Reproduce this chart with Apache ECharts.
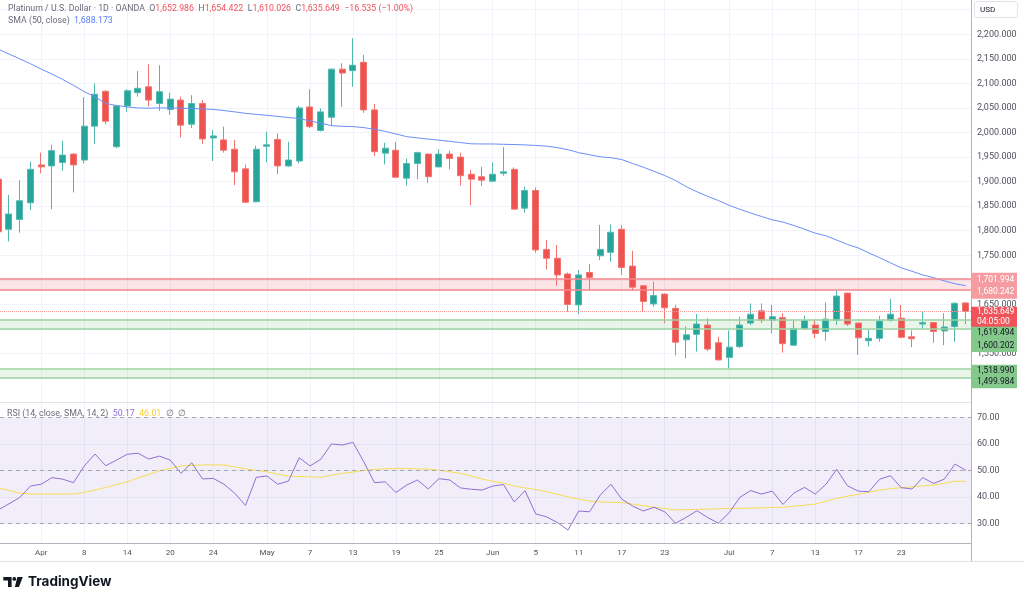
<!DOCTYPE html>
<html>
<head>
<meta charset="utf-8">
<title>Platinum / U.S. Dollar · 1D · OANDA</title>
<script src="https://cdn.jsdelivr.net/npm/echarts@6.0.0/dist/echarts.min.js"></script>
<style>
  html, body { margin: 0; padding: 0; background: #fff; }
  #main { width: 1024px; height: 598px; }
</style>
</head>
<body>
<div id="main"></div>
<script>
// trading days on screen (Mar 26 is only partly visible at the left edge)
let dates = [
  '2026-03-26', '2026-03-27', '2026-03-30', '2026-03-31',
  '2026-04-01', '2026-04-02', '2026-04-06', '2026-04-07', '2026-04-08', '2026-04-09', '2026-04-10',
  '2026-04-13', '2026-04-14', '2026-04-15', '2026-04-16', '2026-04-17',
  '2026-04-20', '2026-04-21', '2026-04-22', '2026-04-23', '2026-04-24',
  '2026-04-27', '2026-04-28', '2026-04-29', '2026-04-30',
  '2026-05-01', '2026-05-04', '2026-05-05', '2026-05-06', '2026-05-07', '2026-05-08',
  '2026-05-11', '2026-05-12', '2026-05-13', '2026-05-14', '2026-05-15',
  '2026-05-18', '2026-05-19', '2026-05-20', '2026-05-21', '2026-05-22',
  '2026-05-25', '2026-05-26', '2026-05-27', '2026-05-28', '2026-05-29',
  '2026-06-01', '2026-06-02', '2026-06-03', '2026-06-04', '2026-06-05',
  '2026-06-08', '2026-06-09', '2026-06-10', '2026-06-11', '2026-06-12',
  '2026-06-15', '2026-06-16', '2026-06-17', '2026-06-18', '2026-06-19',
  '2026-06-22', '2026-06-23', '2026-06-24', '2026-06-25', '2026-06-26',
  '2026-06-29', '2026-06-30', '2026-07-01', '2026-07-02', '2026-07-03',
  '2026-07-06', '2026-07-07', '2026-07-08', '2026-07-09', '2026-07-10',
  '2026-07-13', '2026-07-14', '2026-07-15', '2026-07-16', '2026-07-17',
  '2026-07-20', '2026-07-21', '2026-07-22', '2026-07-23', '2026-07-24',
  '2026-07-27', '2026-07-28', '2026-07-29', '2026-07-30', '2026-07-31'
];

let opens = [
  1905, 1803, 1823, 1857,
  1934, 1932, 1939, 1956, 1944, 2013, 2084,
  1971, 2054, 2081, 2093, 2059,
  2047, 2066, 2017, 2059, 1989,
  1985, 1966, 1926, 1859,
  1972, 1986, 1932, 1942, 2052, 2004,
  2031, 2129, 2126, 2143, 2046,
  1958, 1964, 1907, 1937, 1956,
  1930, 1956, 1950, 1915, 1910,
  1901, 1917, 1925, 1846, 1882,
  1762, 1744, 1712, 1649, 1715,
  1749, 1756, 1803, 1728, 1688,
  1651, 1671, 1642, 1578, 1589,
  1608, 1572, 1542, 1564, 1612,
  1637, 1618, 1623, 1567, 1601,
  1608, 1595, 1618, 1673, 1612,
  1576, 1581, 1618, 1622, 1584,
  1610, 1613, 1596, 1605, 1652.986
];
let highs = [
  1915, 1873, 1903, 1941,
  1959, 1975, 1983, 1958, 2072, 2100, 2086,
  2056, 2088, 2125, 2139, 2137,
  2081, 2073, 2076, 2066, 2005,
  2012, 1985, 1935, 1973,
  2002, 1998, 1981, 2054, 2088, 2049,
  2130, 2141, 2192, 2158, 2058,
  1979, 1981, 1947, 1961, 1958,
  1966, 1963, 1959, 1924, 1930,
  1939, 1970, 1929, 1890, 1888,
  1781, 1771, 1715, 1720, 1732,
  1812, 1813, 1812, 1759, 1689,
  1696, 1672, 1649, 1605, 1630,
  1622, 1584, 1597, 1625, 1652,
  1652, 1649, 1632, 1620, 1627,
  1618, 1654, 1679, 1674, 1613,
  1599, 1627, 1661, 1649, 1597,
  1635, 1614, 1632, 1654, 1654.422
];
let lows = [
  1790, 1778, 1796, 1842,
  1917, 1844, 1922, 1878, 1937, 1977, 2017,
  1968, 2042, 2073, 2053, 2044,
  2036, 1990, 2009, 1977, 1942,
  1959, 1893, 1857, 1858,
  1939, 1915, 1930, 1937, 2009, 2002,
  2013, 2052, 2093, 2040, 1952,
  1935, 1907, 1892, 1905, 1897,
  1929, 1925, 1892, 1852, 1891,
  1899, 1912, 1844, 1837, 1755,
  1721, 1688, 1635, 1630, 1679,
  1740, 1737, 1710, 1678, 1635,
  1645, 1612, 1546, 1540, 1554,
  1555, 1536, 1519, 1561, 1608,
  1612, 1591, 1552, 1565, 1599,
  1581, 1576, 1608, 1606, 1547,
  1564, 1574, 1615, 1581, 1563,
  1599, 1572, 1567, 1574, 1610.026
];
let closes = [
  1798, 1834, 1861, 1925,
  1930, 1963, 1954, 1934, 2013, 2078, 2023,
  2054, 2085, 2090, 2066, 2083,
  2068, 2015, 2059, 1987, 1993,
  1964, 1920, 1858, 1966,
  1975, 1932, 1944, 2050, 2012, 2042,
  2129, 2121, 2137, 2046, 1961,
  1968, 1909, 1937, 1959, 1910,
  1956, 1947, 1912, 1905, 1903,
  1915, 1920, 1844, 1882, 1761,
  1744, 1710, 1650, 1710, 1705,
  1762, 1797, 1725, 1685, 1656,
  1668, 1643, 1573, 1588, 1610,
  1559, 1537, 1563, 1608, 1630,
  1618, 1625, 1570, 1601, 1617,
  1591, 1620, 1667, 1610, 1582,
  1581, 1616, 1630, 1583, 1580,
  1613, 1595, 1604, 1652.184, 1635.649
];

// SMA (50, close)
let sma50 = [
  2169.7, 2159.7, 2150, 2140,
  2129, 2119, 2108, 2096, 2083, 2073, 2059,
  2055, 2052, 2050, 2049.5, 2050,
  2050, 2049.5, 2049, 2048, 2047,
  2044.7, 2042, 2039, 2037,
  2035, 2032.7, 2030.6, 2028.5, 2023.5, 2019,
  2014, 2012.7, 2012, 2010, 2006.6,
  2002.3, 1997, 1991.5, 1989, 1986.6,
  1984.4, 1982, 1979.5, 1977, 1976.7,
  1976.7, 1976, 1975.5, 1974.8, 1973.6,
  1972.2, 1969.3, 1965, 1959, 1954.7,
  1950.6, 1948.6, 1945, 1937, 1929.4,
  1921, 1912.5, 1902.3, 1889.7, 1879.3,
  1870, 1861.4, 1851.6, 1843.5, 1836,
  1829, 1822.3, 1817.6, 1810.7, 1803.2,
  1795, 1789.7, 1781, 1772, 1765,
  1754.7, 1745, 1734.6, 1724.6, 1717.5,
  1710, 1704.5, 1698, 1692, 1688.173
];

// RSI (14) and its SMA (14)
let rsi = [
  35.2, 37.5, 39.9, 44.2,
  44.9, 47.4, 46.8, 45.5, 51.8, 56.3, 51.9,
  54.0, 56.2, 56.6, 54.4, 55.5,
  54.0, 49.0, 53.0, 46.9, 47.1,
  44.9, 41.5, 36.9, 47.5,
  48.0, 44.9, 46.1, 54.9, 51.8, 54.3,
  60.1, 59.7, 60.7, 53.4, 45.5,
  45.8, 41.8, 44.6, 46.5, 43.1,
  47.0, 46.5, 43.5, 43.0, 42.7,
  44.2, 44.8, 38.2, 42.5, 33.7,
  32.6, 30.5, 27.6, 34.8, 34.5,
  40.8, 44.9, 39.3, 36.7, 34.8,
  36.2, 34.5, 30.2, 32.4, 34.9,
  32.3, 30.2, 34.2, 40.0, 42.5,
  41.2, 42.3, 37.3, 41.5, 43.7,
  41.2, 44.9, 50.5, 44.3, 42.3,
  42.1, 46.8, 48.1, 43.6, 43.1,
  47.4, 45.2, 46.8, 52.5, 50.17
];
let rsiMa = [
  43.4, 42.6, 41.5, 41.2,
  41.2, 41.2, 41.2, 41.2, 41.8, 42.7, 43.7,
  44.8, 45.8, 47.3, 48.5, 50.0,
  50.9, 51.8, 52.0, 52.2, 52.2,
  52.2, 51.4, 50.7, 50.1,
  49.6, 48.7, 48.0, 47.8, 47.7, 47.5,
  48.3, 49.0, 49.5, 50.1, 50.5,
  50.7, 50.9, 50.8, 50.7, 50.6,
  50.2, 49.6, 49.0, 48.0, 46.9,
  46.0, 45.3, 44.2, 43.5, 42.9,
  42.1, 41.1, 40.1, 39.3, 38.6,
  38.2, 38.1, 38.0, 37.4, 36.8,
  36.2, 35.7, 35.2, 35.3, 35.4,
  35.5, 35.6, 35.8, 35.8, 35.9,
  36.0, 36.1, 36.2, 36.6, 37.0,
  37.4, 38.5, 39.6, 40.4, 41.1,
  41.9, 42.7, 43.2, 43.6, 43.9,
  44.3, 44.6, 45.3, 46.0, 46.01
];

// time axis labels
let tickDates = [
  '2026-04-01', '2026-04-08', '2026-04-14', '2026-04-20', '2026-04-24',
  '2026-05-01', '2026-05-07', '2026-05-13', '2026-05-19', '2026-05-25',
  '2026-06-01', '2026-06-05', '2026-06-11', '2026-06-17', '2026-06-23',
  '2026-07-01', '2026-07-07', '2026-07-13', '2026-07-17', '2026-07-23'
];
let tickTexts = ['Apr', '8', '14', '20', '24', 'May', '7', '13', '19', '25',
  'Jun', '5', '11', '17', '23', 'Jul', '7', '13', '17', '23'];

// price scale
let priceTicks = [1500, 1550, 1600, 1650, 1700, 1750, 1800, 1850, 1900, 1950,
  2000, 2050, 2100, 2150, 2200, 2250];
let priceLabels = [1550, 1650, 1750, 1800, 1850, 1900, 1950, 2000, 2050, 2100, 2150, 2200];
let rsiTicks = [30, 40, 50, 60, 70];
let rsiBands = [70, 50, 30];

// drawn horizontal zones
let resistanceZone = [1701.994, 1680.242];
let supportZones = [[1619.494, 1600.202], [1518.990, 1499.984]];

// 获取dom节点并初始化
let chartDom = document.getElementById('main');
let myChart = echarts.init(chartDom);
let option;

const UP = '#26a69a';
const DOWN = '#ef5350';
const GRID_LINE = '#f0f3fa';
const AXIS_TEXT = '#50535e';
const FONT = 'Roboto, sans-serif';
const LEG = 8.8;

const fmt3 = v => v.toLocaleString('en-US', { minimumFractionDigits: 3, maximumFractionDigits: 3 });

// bar index is the x value; the view starts just right of bar 0 so it is cut off
let tickIdx = tickDates.map(d => dates.indexOf(d));
let candleData = dates.map((d, i) => [i, opens[i], closes[i], lows[i], highs[i]]);
let smaData = sma50.map((v, i) => [i, v]);
let rsiData = rsi.map((v, i) => [i, v]);
let rsiMaData = rsiMa.map((v, i) => [i, v]);
let last = closes.length - 1;

const xView = { min: 0.163, max: 90.49 };

option = {
  animation: false,
  backgroundColor: '#ffffff',
  textStyle: { fontFamily: FONT },
  grid: [
    { left: 0, top: 0, width: 971, height: 402 },
    { left: 0, top: 403, width: 971, height: 140 }
  ],
  xAxis: [
    {
      type: 'value', gridIndex: 0, min: xView.min, max: xView.max,
      axisLine: { show: false },
      axisTick: { show: false, customValues: tickIdx },
      axisLabel: { show: false },
      splitLine: { show: true, lineStyle: { color: GRID_LINE, width: 1 } }
    },
    {
      type: 'value', gridIndex: 1, min: xView.min, max: xView.max,
      axisLine: { show: true, onZero: false, lineStyle: { color: '#b2b5be' } },
      axisTick: { show: false, customValues: tickIdx },
      axisLabel: {
        customValues: tickIdx,
        formatter: v => tickTexts[tickIdx.indexOf(v)],
        color: AXIS_TEXT, fontSize: 8, margin: 6
      },
      splitLine: { show: true, lineStyle: { color: GRID_LINE, width: 1 } }
    }
  ],
  yAxis: [
    {
      type: 'value', gridIndex: 0, position: 'right', min: 1451.3, max: 2269.8,
      axisLine: { show: true, lineStyle: { color: '#b2b5be' } },
      axisTick: { show: false, customValues: priceTicks },
      axisLabel: { customValues: priceLabels, formatter: fmt3, color: AXIS_TEXT, fontSize: 9, margin: 6 },
      splitLine: { show: true, lineStyle: { color: GRID_LINE, width: 1 } }
    },
    {
      type: 'value', gridIndex: 1, position: 'right', min: 22.72, max: 75.55,
      axisLine: { show: true, lineStyle: { color: '#b2b5be' } },
      axisTick: { show: false, customValues: rsiTicks },
      axisLabel: { customValues: rsiTicks, formatter: v => v.toFixed(2), color: AXIS_TEXT, fontSize: 9, margin: 6 },
      splitLine: { show: true, lineStyle: { color: GRID_LINE, width: 1 } }
    }
  ],
  series: [
    // 价格区：区域、现价虚线
    {
      name: 'zones', type: 'line', xAxisIndex: 0, yAxisIndex: 0, data: [], z: 1, silent: true,
      markArea: {
        silent: true,
        data: [
          [{ yAxis: resistanceZone[0], itemStyle: { color: 'rgba(242,54,69,0.13)' } }, { yAxis: resistanceZone[1] }]
        ].concat(supportZones.map(z => [
          { yAxis: z[0], itemStyle: { color: 'rgba(76,175,80,0.13)' } }, { yAxis: z[1] }
        ]))
      },
      markLine: {
        silent: true, symbol: ['none', 'none'], label: { show: false },
        data: resistanceZone.map(v => ({ yAxis: v, lineStyle: { color: '#f4868b', width: 1.5, type: 'solid' } }))
          .concat(supportZones.flat().map(v => ({ yAxis: v, lineStyle: { color: '#9cd3a2', width: 1.5, type: 'solid' } })))
          .concat([{ yAxis: closes[last], lineStyle: { color: '#f39a9e', width: 1, type: 'dotted' } }])
      }
    },
    {
      name: 'Platinum', type: 'candlestick', xAxisIndex: 0, yAxisIndex: 0, data: candleData,
      encode: { x: 0, y: [1, 2, 3, 4] },
      barWidth: 6.5, z: 3,
      itemStyle: { color: UP, color0: DOWN, borderColor: '#52b8ae', borderColor0: '#f27471', borderWidth: 1 }
    },
    {
      name: 'SMA', type: 'line', xAxisIndex: 0, yAxisIndex: 0, data: smaData,
      symbol: 'none', lineStyle: { color: '#6b8ef7', width: 1 }, z: 4
    },
    // RSI 区：背景、带线
    {
      name: 'rsiBg', type: 'line', xAxisIndex: 1, yAxisIndex: 1, data: [], z: 1, silent: true,
      markArea: {
        silent: true,
        data: [[{ yAxis: rsiBands[0], itemStyle: { color: 'rgba(126,87,194,0.1)' } }, { yAxis: rsiBands[2] }]]
      },
      markLine: {
        silent: true, symbol: ['none', 'none'], label: { show: false },
        data: rsiBands.map(v => ({ yAxis: v, lineStyle: { color: '#a4a7b0', width: 1, type: [4, 4] } }))
      }
    },
    {
      name: 'RSI', type: 'line', xAxisIndex: 1, yAxisIndex: 1, data: rsiData,
      symbol: 'none', lineStyle: { color: '#8e6fd3', width: 1 }, z: 4
    },
    {
      name: 'RSI MA', type: 'line', xAxisIndex: 1, yAxisIndex: 1, data: rsiMaData,
      symbol: 'none', lineStyle: { color: '#f7dc55', width: 1 }, z: 3
    }
  ]
};

option && myChart.setOption(option);

/* 标签、价格牌、图例 */
const py = v => myChart.convertToPixel({ yAxisIndex: 0 }, v);
const chg = closes[last] - closes[last - 1];
const sign = chg < 0 ? '\u2212' : '+';
const pct = Math.abs(chg / closes[last - 1] * 100).toFixed(2);

function tag(top, rows, rowH, bg, fg) {
  let els = [{
    type: 'rect', z: 100,
    shape: { x: 971, y: top, width: 46, height: rows.length * rowH + 1 },
    style: { fill: bg }
  }];
  rows.forEach((t, k) => els.push({
    type: 'text', z: 101, x: 977, y: top + rowH / 2 + 0.5 + k * rowH,
    style: { text: t, fill: fg, fontSize: 8.5, fontFamily: FONT, verticalAlign: 'middle' }
  }));
  return els;
}

let curTop = py(closes[last]) - 4.8;
let graphics = []
  .concat(tag(py(resistanceZone[0]) - 6.2, resistanceZone.map(fmt3), 12.5, '#f49ca0', '#ffffff'))
  .concat(tag(curTop, [fmt3(closes[last]), '04:05:00'], 10, '#f0545a', '#ffffff'))
  .concat(tag(curTop + 20, supportZones[0].map(fmt3), 12.2, '#84c98b', '#131722'))
  .concat(tag(py(supportZones[1][0]) - 4, supportZones[1].map(fmt3), 11.2, '#84c98b', '#131722'));

const rich = (extra) => Object.assign({ g: { fill: '#6a6d78', fontSize: LEG, fontFamily: FONT } }, extra);

graphics = graphics.concat([
  // pane separators
  { type: 'line', z: 50, shape: { x1: 0, y1: 402.5, x2: 971, y2: 402.5 }, style: { stroke: '#e0e3eb', lineWidth: 1 } },
  { type: 'line', z: 50, shape: { x1: 0, y1: 561.5, x2: 1024, y2: 561.5 }, style: { stroke: '#e0e3eb', lineWidth: 1 } },
  { type: 'line', z: 50, shape: { x1: 971.5, y1: 0, x2: 971.5, y2: 561 }, style: { stroke: '#b2b5be', lineWidth: 1 } },
  // currency box
  { type: 'rect', z: 60, shape: { x: 974.5, y: 1.5, width: 43, height: 16, r: 3 }, style: { fill: '#ffffff', stroke: '#e0e3eb' } },
  { type: 'text', z: 61, x: 980, y: 10, style: { text: 'USD', fill: '#131722', fontSize: 8, fontFamily: FONT, verticalAlign: 'middle' } },
  // legends
  {
    type: 'text', z: 60, x: 8, y: 8.5,
    style: {
      text: '{g|Platinum / U.S. Dollar \u00b7 1D \u00b7 OANDA  O}{r|' + fmt3(opens[last]) +
        '}{g|  H}{r|' + fmt3(highs[last]) + '}{g|  L}{r|' + fmt3(lows[last]) +
        '}{g|  C}{r|' + fmt3(closes[last]) + '}{r|  ' + sign + fmt3(Math.abs(chg)) + ' (' + sign + pct + '%)}',
      verticalAlign: 'middle', fontSize: LEG, fontFamily: FONT,
      rich: rich({ r: { fill: '#f0545a', fontSize: LEG, fontFamily: FONT } })
    }
  },
  {
    type: 'text', z: 60, x: 8, y: 20.5,
    style: {
      text: '{g|SMA (50, close)  }{b|' + fmt3(sma50[last]) + '}',
      verticalAlign: 'middle', fontSize: LEG, fontFamily: FONT,
      rich: rich({ b: { fill: '#5b7ff5', fontSize: LEG, fontFamily: FONT } })
    }
  },
  {
    type: 'text', z: 60, x: 7, y: 413.5,
    style: {
      text: '{g|RSI (14, close, SMA, 14, 2)  }{p|' + rsi[last].toFixed(2) + '}{g|  }{y|' + rsiMa[last].toFixed(2) + '}{g|  \u2205  \u2205}',
      verticalAlign: 'middle', fontSize: LEG, fontFamily: FONT,
      rich: rich({
        p: { fill: '#8e6fd3', fontSize: LEG, fontFamily: FONT },
        y: { fill: '#f2cf2a', fontSize: LEG, fontFamily: FONT }
      })
    }
  },
  // TradingView logo
  { type: 'polygon', z: 60, shape: { points: [[3.3, 577], [11.6, 577], [11.6, 587], [8, 587], [8, 580.6], [3.3, 580.6]] }, style: { fill: '#131722' } },
  { type: 'circle', z: 60, shape: { cx: 14.3, cy: 578.9, r: 1.9 }, style: { fill: '#131722' } },
  { type: 'polygon', z: 60, shape: { points: [[17.4, 577], [22.8, 577], [18.9, 587], [14.9, 587]] }, style: { fill: '#131722' } },
  { type: 'text', z: 60, x: 28, y: 582, style: { text: 'TradingView', fill: '#131722', fontSize: 13.5, fontWeight: 'bold', fontFamily: 'Inter, Roboto, sans-serif', verticalAlign: 'middle' } }
]);

myChart.setOption({ graphic: graphics });
</script>
</body>
</html>
